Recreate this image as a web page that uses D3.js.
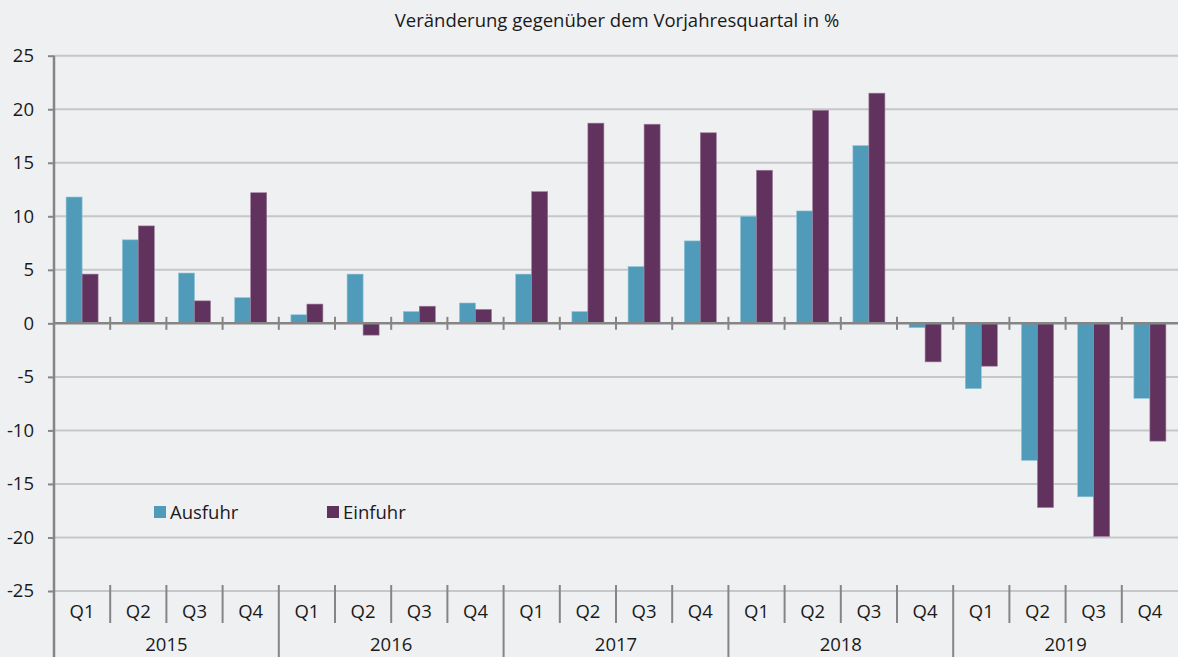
<!DOCTYPE html>
<html><head><meta charset="utf-8">
<script src="https://cdn.jsdelivr.net/npm/d3@7"></script>
<style>
html,body{margin:0;padding:0;background:#eff0f2;}
svg{display:block;font-family:"Open Sans","Noto Sans",sans-serif;}
</style></head>
<body>
<svg id="chart" width="1178" height="657"></svg>
<script>
const years = ["2015","2016","2017","2018","2019"];
const quarters = ["Q1","Q2","Q3","Q4"];
const ausfuhr = [11.8,7.8,4.7,2.4, 0.8,4.6,1.1,1.9, 4.6,1.1,5.3,7.7, 10.0,10.5,16.6,-0.4, -6.1,-12.8,-16.2,-7.0];
const einfuhr = [4.6,9.1,2.1,12.2, 1.8,-1.1,1.6,1.3, 12.3,18.7,18.6,17.8, 14.3,19.9,21.5,-3.6, -4.0,-17.2,-19.9,-11.0];
const seriesNames = ["Ausfuhr","Einfuhr"];
const colors = ["#509bb9","#62325f"];
const yTicks = [25,20,15,10,5,0,-5,-10,-15,-20,-25];
const title = "Veränderung gegenüber dem Vorjahresquartal in %";

(function(){
const svg = d3.select("#chart");
const W = 1178, H = 657;
const mLeft = 54, mRight = 1178, mTop = 55.7, mBottom = 591;
const fs = 18.5;

const keys = [];
years.forEach(yr => quarters.forEach(q => keys.push(yr + "-" + q)));

const x = d3.scaleBand().domain(keys).range([mLeft, mRight]).padding(0);
const y = d3.scaleLinear().domain([-25, 25]).range([mBottom, mTop]);
const barW = 16;

svg.append("rect").attr("width", W).attr("height", H).attr("fill", "#eff0f2");

// title
svg.append("text").attr("x", 617).attr("y", 26.5).attr("text-anchor", "middle")
  .attr("font-size", fs).attr("fill", "#1a1a1a").text(title);

// gridlines
svg.append("g").selectAll("line").data(yTicks.filter(t => t !== 0))
  .join("line")
  .attr("x1", mLeft).attr("x2", mRight)
  .attr("y1", d => y(d)).attr("y2", d => y(d))
  .attr("stroke", "#c6c7c9").attr("stroke-width", 2);

// y axis
const yAxis = d3.axisLeft(y).tickValues(yTicks).tickSize(6).tickPadding(14).tickFormat(d => String(d));
const gy = svg.append("g").attr("transform", `translate(${mLeft},0)`).call(yAxis);
gy.select(".domain").remove();
gy.selectAll(".tick line").attr("stroke", "#858585").attr("stroke-width", 2);
gy.selectAll(".tick text").attr("font-size", fs).attr("fill", "#1a1a1a")
  .attr("font-family", "'Open Sans','Noto Sans',sans-serif").attr("x", -20);

// bars
const data = keys.map((k, i) => ({k, vals: [ausfuhr[i], einfuhr[i]]}));
const g = svg.append("g");
data.forEach(d => {
  const cx = x(d.k) + x.bandwidth() / 2;
  d.vals.forEach((v, j) => {
    g.append("rect")
      .attr("x", cx - barW + j * barW)
      .attr("width", barW)
      .attr("y", Math.min(y(v), y(0)))
      .attr("height", Math.abs(y(v) - y(0)))
      .attr("fill", colors[j])
      .attr("stroke", j === 0 ? "#8fc3d8" : "#9a7a98").attr("stroke-width", 0.6);
  });
});

// zero line
svg.append("line").attr("x1", mLeft).attr("x2", mRight).attr("y1", y(0)).attr("y2", y(0))
  .attr("stroke", "#858585").attr("stroke-width", 2.5);
svg.append("g").selectAll("line").data(keys.slice(1)).join("line")
  .attr("x1", d => x(d)).attr("x2", d => x(d))
  .attr("y1", y(0) - 6.5).attr("y2", y(0) + 6.5)
  .attr("stroke", "#858585").attr("stroke-width", 2);

// y axis line
svg.append("line").attr("x1", mLeft).attr("x2", mLeft).attr("y1", mTop).attr("y2", H)
  .attr("stroke", "#858585").attr("stroke-width", 2.5);

// bottom category axis
const gx = svg.append("g");
keys.forEach((k, i) => {
  if (i === 0) return;
  const isYear = i % 4 === 0;
  gx.append("line").attr("x1", x(k)).attr("x2", x(k))
    .attr("y1", mBottom - 6).attr("y2", isYear ? H : 623)
    .attr("stroke", "#858585").attr("stroke-width", 2);
});
gx.selectAll("text.q").data(keys).join("text").attr("class", "q")
  .attr("x", d => x(d) + x.bandwidth() / 2).attr("y", 618)
  .attr("text-anchor", "middle").attr("font-size", fs).attr("fill", "#1a1a1a")
  .text(d => d.split("-")[1]);
gx.selectAll("text.yr").data(years).join("text").attr("class", "yr")
  .attr("x", d => (x(d + "-Q1") + x(d + "-Q4") + x.bandwidth()) / 2).attr("y", 651)
  .attr("text-anchor", "middle").attr("font-size", fs).attr("fill", "#1a1a1a")
  .text(d => d);

// legend
const legX = [154, 327];
seriesNames.forEach((n, i) => {
  svg.append("rect").attr("x", legX[i]).attr("y", 506).attr("width", 12).attr("height", 12).attr("fill", colors[i]);
  svg.append("text").attr("x", legX[i] + 16).attr("y", 519).attr("font-size", fs).attr("fill", "#1a1a1a").text(n);
});
})();
</script>
</body></html>
